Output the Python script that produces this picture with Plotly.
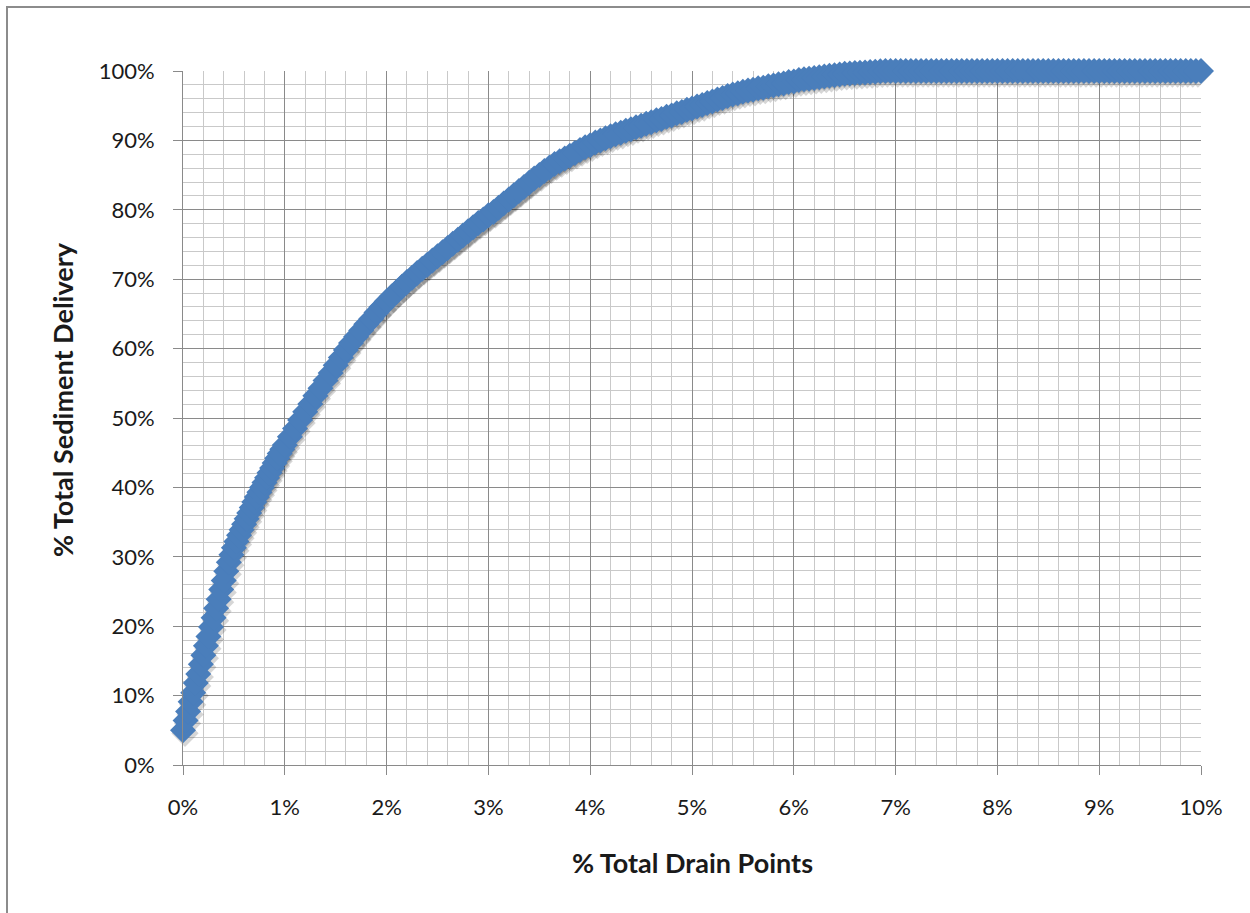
import plotly.graph_objects as go

# Cumulative share of total sediment delivery (%) against the share of
# drain points (%), ranked from largest to smallest contributor.
drain_pct = [
    0.000, 0.025, 0.050, 0.075, 0.100, 0.125, 0.150, 0.175, 0.200, 0.225,
    0.250, 0.275, 0.300, 0.325, 0.350, 0.375, 0.400, 0.425, 0.450, 0.475,
    0.500, 0.525, 0.550, 0.575, 0.600, 0.625, 0.650, 0.675, 0.700, 0.725,
    0.750, 0.775, 0.800, 0.825, 0.850, 0.875, 0.900, 0.925, 0.950, 0.975,
    1.00,
    1.05, 1.10, 1.15, 1.20, 1.25, 1.30, 1.35, 1.40, 1.45, 1.50,
    1.55, 1.60, 1.65, 1.70, 1.75, 1.80, 1.85, 1.90, 1.95, 2.00,
    2.05, 2.10, 2.15, 2.20, 2.25, 2.30, 2.35, 2.40, 2.45, 2.50,
    2.55, 2.60, 2.65, 2.70, 2.75, 2.80, 2.85, 2.90, 2.95, 3.00,
    3.05, 3.10, 3.15, 3.20, 3.25, 3.30, 3.35, 3.40, 3.45, 3.50,
    3.55, 3.60, 3.65, 3.70, 3.75, 3.80, 3.85, 3.90, 3.95, 4.00,
    4.05, 4.10, 4.15, 4.20, 4.25, 4.30, 4.35, 4.40, 4.45, 4.50,
    4.55, 4.60, 4.65, 4.70, 4.75, 4.80, 4.85, 4.90, 4.95, 5.00,
    5.05, 5.10, 5.15, 5.20, 5.25, 5.30, 5.35, 5.40, 5.45, 5.50,
    5.55, 5.60, 5.65, 5.70, 5.75, 5.80, 5.85, 5.90, 5.95, 6.00,
    6.05, 6.10, 6.15, 6.20, 6.25, 6.30, 6.35, 6.40, 6.45, 6.50,
    6.55, 6.60, 6.65, 6.70, 6.75, 6.80, 6.85, 6.90, 6.95, 7.00,
    7.05, 7.10, 7.15, 7.20, 7.25, 7.30, 7.35, 7.40, 7.45, 7.50,
    7.55, 7.60, 7.65, 7.70, 7.75, 7.80, 7.85, 7.90, 7.95, 8.00,
    8.05, 8.10, 8.15, 8.20, 8.25, 8.30, 8.35, 8.40, 8.45, 8.50,
    8.55, 8.60, 8.65, 8.70, 8.75, 8.80, 8.85, 8.90, 8.95, 9.00,
    9.05, 9.10, 9.15, 9.20, 9.25, 9.30, 9.35, 9.40, 9.45, 9.50,
    9.55, 9.60, 9.65, 9.70, 9.75, 9.80, 9.85, 9.90, 9.95, 10.00,
]

sediment_pct = [
    5.0, 6.4, 7.7, 9.1, 10.4, 11.8, 13.1, 14.5, 15.8, 17.2,
    18.5, 19.9, 21.2, 22.6, 23.9, 25.3, 26.6, 27.9, 29.2, 30.3,
    31.3, 32.2, 33.1, 33.9, 34.7, 35.5, 36.3, 37.1, 37.9, 38.6,
    39.3, 40.0, 40.7, 41.4, 42.1, 42.8, 43.5, 44.2, 44.9, 45.5,
    46.1,
    47.3, 48.5, 49.7, 50.9, 52.0, 53.2, 54.3, 55.4, 56.5, 57.6,
    58.7, 59.8, 60.8, 61.7, 62.6, 63.5, 64.3, 65.2, 66.0, 66.8,
    67.5, 68.2, 68.9, 69.6, 70.2, 70.9, 71.5, 72.1, 72.7, 73.3,
    73.9, 74.5, 75.1, 75.7, 76.3, 76.9, 77.5, 78.1, 78.6, 79.2,
    79.7, 80.3, 80.9, 81.5, 82.1, 82.7, 83.3, 83.9, 84.5, 85.0,
    85.6, 86.1, 86.6, 87.0, 87.4, 87.8, 88.2, 88.6, 89.0, 89.3,
    89.7, 90.0, 90.3, 90.6, 90.9, 91.1, 91.4, 91.6, 91.9, 92.1,
    92.4, 92.6, 92.9, 93.1, 93.4, 93.6, 93.9, 94.1, 94.4, 94.6,
    94.9, 95.1, 95.4, 95.6, 95.9, 96.1, 96.4, 96.6, 96.8, 97.0,
    97.2, 97.3, 97.5, 97.6, 97.8, 97.9, 98.1, 98.2, 98.4, 98.5,
    98.7, 98.8, 98.9, 99.0, 99.1, 99.2, 99.3, 99.4, 99.5, 99.6,
    99.65, 99.7, 99.75, 99.8, 99.85, 99.9, 99.95, 100.0, 100.0, 100.0,
    100.0, 100.0, 100.0, 100.0, 100.0, 100.0, 100.0, 100.0, 100.0, 100.0,
    100.0, 100.0, 100.0, 100.0, 100.0, 100.0, 100.0, 100.0, 100.0, 100.0,
    100.0, 100.0, 100.0, 100.0, 100.0, 100.0, 100.0, 100.0, 100.0, 100.0,
    100.0, 100.0, 100.0, 100.0, 100.0, 100.0, 100.0, 100.0, 100.0, 100.0,
    100.0, 100.0, 100.0, 100.0, 100.0, 100.0, 100.0, 100.0, 100.0, 100.0,
    100.0, 100.0, 100.0, 100.0, 100.0, 100.0, 100.0, 100.0, 100.0, 100.0,
]

x_ticks = [0, 1, 2, 3, 4, 5, 6, 7, 8, 9, 10]
y_ticks = [0, 10, 20, 30, 40, 50, 60, 70, 80, 90, 100]

FONT = "Lato"
TEXT = "#1a1a1a"
MAJOR = "#8a8a8a"
MINOR = "#c9c9c9"
BLUE = "#4A7EBB"

fig = go.Figure()

# Soft drop shadow: the same series on a hidden pair of axes whose ranges are
# nudged a few pixels, so the copy sits just right of and below the markers.
fig.add_trace(go.Scatter(
    x=drain_pct, y=sediment_pct, mode="markers", cliponaxis=False,
    marker=dict(symbol="diamond", size=21, color="rgba(0,0,0,0.16)", line=dict(width=0)),
    xaxis="x", yaxis="y", hoverinfo="skip", showlegend=False,
))

fig.add_trace(go.Scatter(
    x=drain_pct, y=sediment_pct, mode="markers", cliponaxis=False,
    marker=dict(symbol="diamond", size=20, color=BLUE, line=dict(width=0)),
    xaxis="x2", yaxis="y2", showlegend=False,
))

W, H = 1250, 913
L, R, T, B = 183, 49, 71, 148
pw, ph = W - L - R, H - T - B
SHIFT_X, SHIFT_Y = 2, 3

fig.update_layout(
    width=W, height=H,
    margin=dict(l=L, r=R, t=T, b=B),
    paper_bgcolor="white", plot_bgcolor="white",
    font=dict(family=FONT, color=TEXT, size=22),
    xaxis=dict(range=[-SHIFT_X / pw * 10, 10 - SHIFT_X / pw * 10], visible=False, showgrid=False),
    yaxis=dict(range=[SHIFT_Y / ph * 100, 100 + SHIFT_Y / ph * 100], visible=False, showgrid=False),
    xaxis2=dict(
        overlaying="x", anchor="y2", side="bottom",
        range=[0, 10], tickmode="array", tickvals=x_ticks,
        ticktext=[f"{v}%" for v in x_ticks],
        showgrid=True, gridcolor=MAJOR, gridwidth=1,
        minor=dict(dtick=0.2, showgrid=True, gridcolor=MINOR, gridwidth=1, ticks=""),
        showline=True, linecolor=MAJOR, linewidth=1,
        ticks="outside", ticklen=9, tickcolor=MAJOR, tickwidth=1,
        ticklabelstandoff=14, zeroline=False,
        tickfont=dict(family=FONT, size=22, color=TEXT),
    ),
    yaxis2=dict(
        overlaying="y", anchor="x2", side="left",
        range=[0, 100], tickmode="array", tickvals=y_ticks,
        ticktext=[f"{v}%" for v in y_ticks],
        showgrid=True, gridcolor=MAJOR, gridwidth=1,
        minor=dict(dtick=2, showgrid=True, gridcolor=MINOR, gridwidth=1, ticks=""),
        showline=True, linecolor=MAJOR, linewidth=1,
        ticks="outside", ticklen=9, tickcolor=MAJOR, tickwidth=1,
        ticklabelstandoff=14, zeroline=False,
        tickfont=dict(family=FONT, size=22, color=TEXT),
    ),
    annotations=[
        dict(text="<b>% Total Drain Points</b>", xref="paper", yref="paper",
             x=0.5, y=(765 - 862) / ph, xanchor="center", yanchor="middle",
             showarrow=False, font=dict(family=FONT, size=27, color=TEXT)),
        dict(text="<b>% Total Sediment Delivery</b>", xref="paper", yref="paper",
             x=(62 - L) / pw, y=(765 - 400) / ph, xanchor="center", yanchor="middle",
             textangle=-90, showarrow=False, font=dict(family=FONT, size=27, color=TEXT)),
    ],
    shapes=[
        dict(type="rect", xref="paper", yref="paper",
             x0=(7 - L) / pw, x1=1.1, y0=-0.25, y1=(765 - 7) / ph,
             line=dict(color="#8c8c8c", width=2), fillcolor="rgba(0,0,0,0)"),
    ],
)

fig.write_html("out.html")
